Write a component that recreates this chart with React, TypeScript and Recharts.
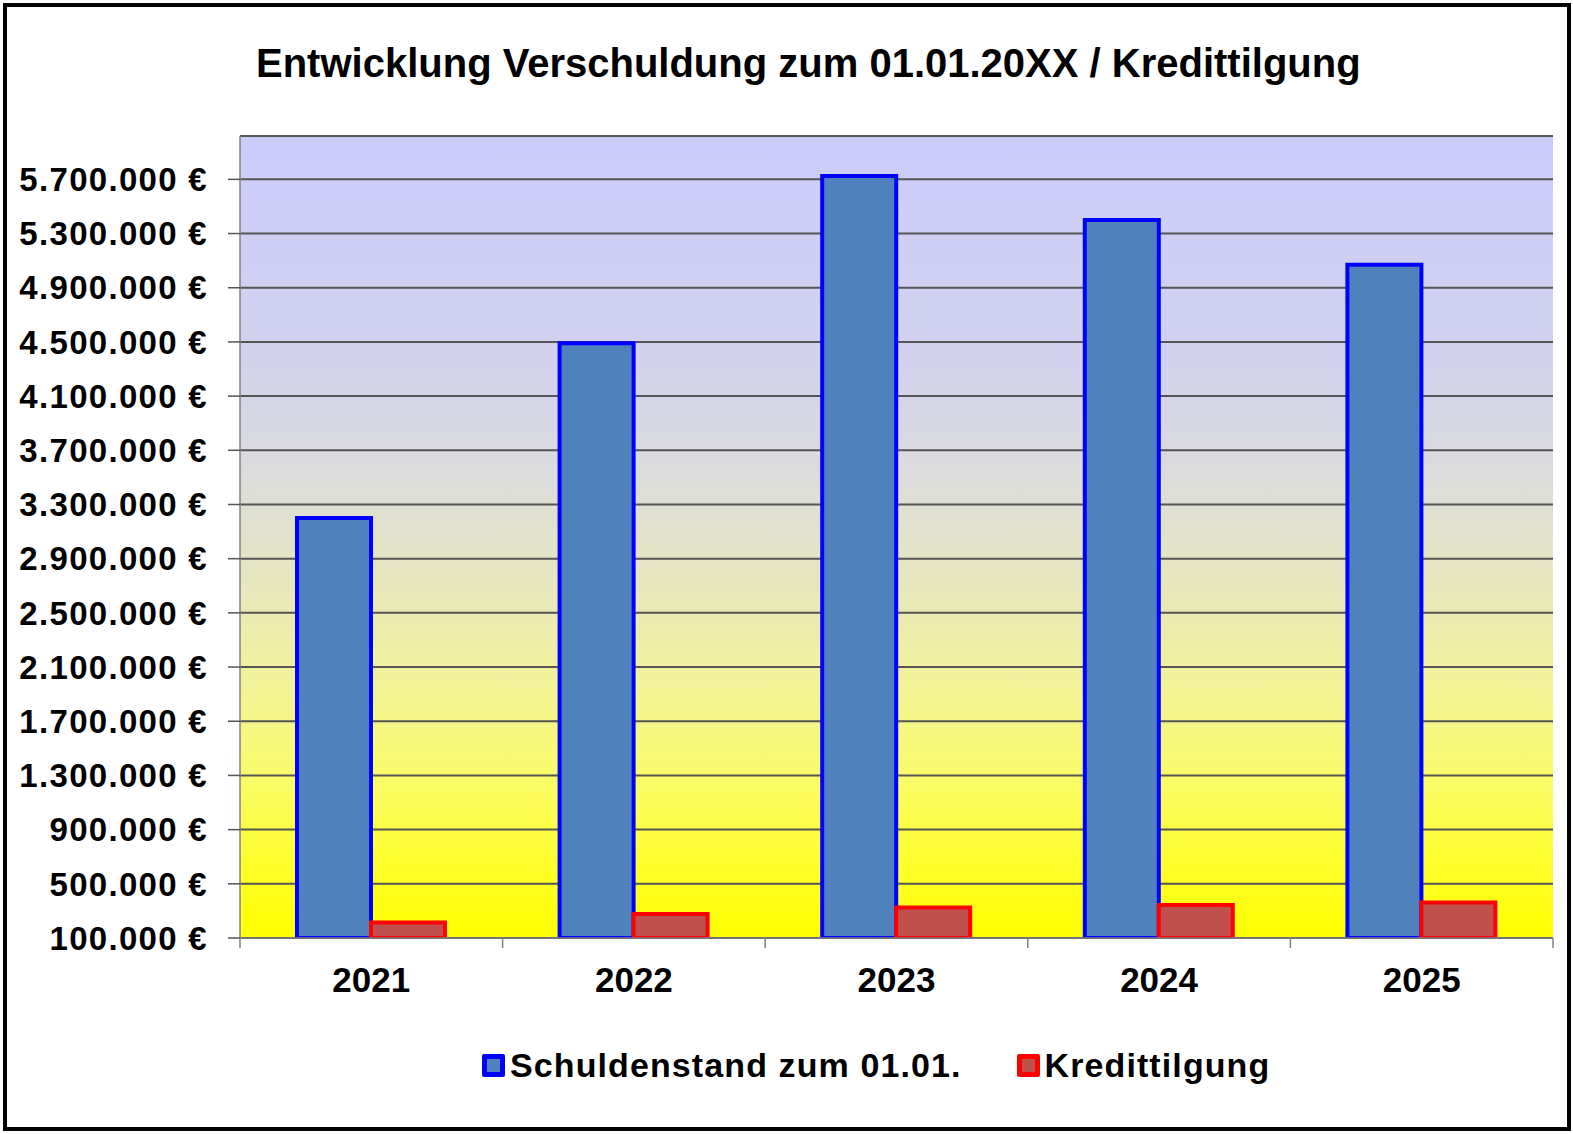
import React from 'react';
import { BarChart, Bar, XAxis, YAxis, CartesianGrid, Legend } from 'recharts';

// ---- data ----
const years = ['2021', '2022', '2023', '2024', '2025'];
const schuldenstand = [3200000, 4490000, 5725000, 5400000, 5070000];
const kredittilgung = [214000, 277000, 325000, 343000, 362000];
const yTicks = [
  100000, 500000, 900000, 1300000, 1700000, 2100000, 2500000, 2900000,
  3300000, 3700000, 4100000, 4500000, 4900000, 5300000, 5700000,
];
const yMin = 100000;
const yMax = 6020000;
const seriesNames = ['Schuldenstand zum 01.01.', 'Kredittilgung'];
const seriesFill = ['#4F81BD', '#C0504D'];
const seriesStroke = ['#0000FF', '#FF0000'];
const titleText = 'Entwicklung Verschuldung zum 01.01.20XX / Kredittilgung';

const data = years.map((y, i) => ({
  year: y,
  schulden: schuldenstand[i],
  tilgung: kredittilgung[i],
}));

// ---- layout ----
const W = 1573;
const H = 1134;
const X_AXIS_H = 80;
const M = { top: 136, right: 20, bottom: 196 - X_AXIS_H, left: 0 };
const Y_AXIS_W = 240;
const PLOT_W = W - M.left - M.right - Y_AXIS_W;
const BAND = PLOT_W / years.length;
const FONT = '"Liberation Sans", Arial, Helvetica, sans-serif';

const fmt = (v: number) =>
  String(v).replace(/\B(?=(\d{3})+(?!\d))/g, '.') + ' €';

const XTick = (props: any) => {
  const { x, y, payload, index } = props;
  const half = BAND / 2;
  const isLast = index === years.length - 1;
  return (
    <g>
      <line x1={x - half} x2={x - half} y1={y} y2={y + 10} stroke="#808080" strokeWidth={1.5} />
      {isLast && (
        <line x1={x + half} x2={x + half} y1={y} y2={y + 10} stroke="#808080" strokeWidth={1.5} />
      )}
      <text
        x={x}
        y={y + 29}
        dy="0.71em"
        textAnchor="middle"
        fill="#000"
        fontSize={35}
        fontWeight={700}
        fontFamily={FONT}
      >
        {payload.value}
      </text>
    </g>
  );
};

const renderLegend = () => (
  <div style={{ display: 'flex', alignItems: 'center', fontFamily: FONT }}>
    {seriesNames.map((n, i) => (
      <div
        key={n}
        style={{ display: 'flex', alignItems: 'center', marginRight: i === 0 ? 55 : 0 }}
      >
        <span
          style={{
            display: 'inline-block',
            width: 23,
            height: 23,
            boxSizing: 'border-box',
            border: `5px solid ${seriesStroke[i]}`,
            background: seriesFill[i],
            borderRadius: 2,
          }}
        />
        <span
          style={{
            marginLeft: 5,
            fontSize: 34,
            lineHeight: 1,
            fontWeight: 700,
            letterSpacing: 1.1,
            color: '#000',
            whiteSpace: 'nowrap',
          }}
        >
          {n}
        </span>
      </div>
    ))}
  </div>
);

export default function App() {
  return (
    <div
      style={{
        position: 'absolute',
        left: 0,
        top: 0,
        width: W,
        height: H,
        background: '#fff',
        fontFamily: FONT,
        overflow: 'hidden',
      }}
    >
      <div style={{ position: 'absolute', left: 0, top: 0 }}>
        <BarChart width={W} height={H} data={data} margin={M} barGap={0}>
          <defs>
            <linearGradient id="plotBg" x1="0" y1="0" x2="0" y2="1">
              <stop offset="0" stopColor="#ccccfc" />
              <stop offset="0.28" stopColor="#d2d2ee" />
              <stop offset="0.42" stopColor="#dcdcdc" />
              <stop offset="0.55" stopColor="#e6e6c0" />
              <stop offset="0.68" stopColor="#f2f29a" />
              <stop offset="0.8" stopColor="#fbfb6a" />
              <stop offset="0.9" stopColor="#fefe30" />
              <stop offset="1" stopColor="#ffff00" />
            </linearGradient>
          </defs>
          <CartesianGrid
            vertical={false}
            stroke="#555555"
            strokeWidth={2}
            fill="url(#plotBg)"
            fillOpacity={1}
          />
          <XAxis
            dataKey="year"
            tickSize={0}
            tickMargin={0}
            tickLine={false}
            axisLine={{ stroke: '#808080', strokeWidth: 1.5 }}
            tick={<XTick />}
            height={X_AXIS_H}
            interval={0}
          />
          <XAxis
            xAxisId="top"
            dataKey="year"
            orientation="top"
            height={0}
            tick={false}
            tickLine={false}
            axisLine={{ stroke: '#808080', strokeWidth: 1.5 }}
          />
          <YAxis
            width={Y_AXIS_W}
            domain={[yMin, yMax]}
            ticks={yTicks}
            interval={0}
            tickFormatter={fmt}
            tickSize={12}
            tickMargin={20}
            tickLine={{ stroke: '#555555', strokeWidth: 1.5 }}
            axisLine={{ stroke: '#808080', strokeWidth: 1.5 }}
            tick={{
              fill: '#000',
              fontSize: 33,
              fontWeight: 700,
              letterSpacing: 1.3,
              fontFamily: FONT,
            }}
            allowDataOverflow
          />
          <YAxis
            yAxisId="right"
            orientation="right"
            width={0}
            domain={[yMin, yMax]}
            tick={false}
            tickLine={false}
            axisLine={{ stroke: '#808080', strokeWidth: 1.5 }}
          />
          <Bar
            dataKey="schulden"
            name={seriesNames[0]}
            fill={seriesFill[0]}
            stroke={seriesStroke[0]}
            strokeWidth={4}
            barSize={74}
            isAnimationActive={false}
          />
          <Bar
            dataKey="tilgung"
            name={seriesNames[1]}
            fill={seriesFill[1]}
            stroke={seriesStroke[1]}
            strokeWidth={4}
            barSize={74}
            isAnimationActive={false}
          />
          <Legend
            layout="horizontal"
            verticalAlign="middle"
            align="center"
            content={renderLegend}
            wrapperStyle={{ top: 1048, left: 482, width: 'auto' }}
          />
        </BarChart>
      </div>
      <div
        style={{
          position: 'absolute',
          left: 256,
          top: 43,
          fontSize: 40,
          lineHeight: 1,
          fontWeight: 700,
          color: '#000',
          whiteSpace: 'nowrap',
        }}
      >
        {titleText}
      </div>
      <div
        style={{
          position: 'absolute',
          left: 3,
          top: 3,
          width: 1568,
          height: 1128,
          boxSizing: 'border-box',
          border: '4px solid #000',
          pointerEvents: 'none',
        }}
      />
    </div>
  );
}
